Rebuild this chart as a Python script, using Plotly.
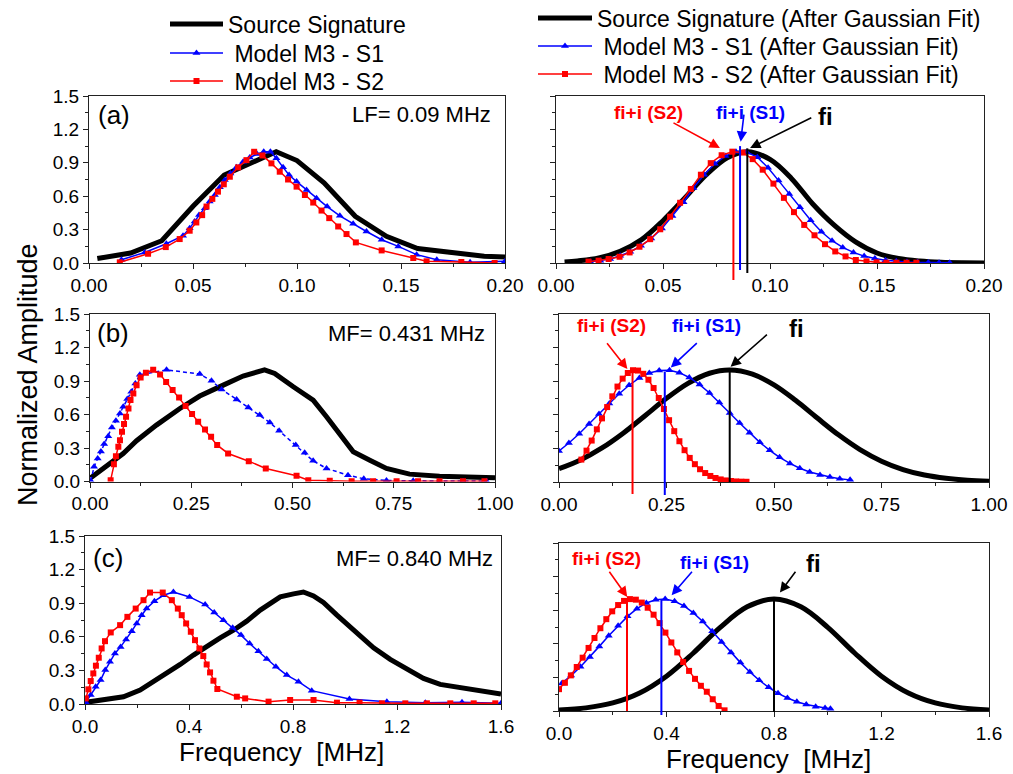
import plotly.graph_objects as go

# ---------------- data: (a) low-frequency source, LF = 0.09 MHz ----------------
a_src_f = [0.004, 0.020, 0.035, 0.050, 0.065, 0.078, 0.090, 0.100, 0.113, 0.128, 0.143, 0.158, 0.175, 0.190, 0.200]
a_src_amp = [0.04, 0.09, 0.20, 0.51, 0.79, 0.90, 1.00, 0.92, 0.72, 0.42, 0.24, 0.13, 0.09, 0.06, 0.055]

a_s1_f = [0.0156, 0.0268, 0.0372, 0.0452, 0.0484, 0.0508, 0.0529, 0.0557, 0.0580, 0.0605, 0.0629, 0.0653,
          0.0680, 0.0709, 0.0741, 0.0773, 0.0808, 0.0840, 0.0872, 0.0901, 0.0933, 0.0962, 0.0998, 0.1046,
          0.1094, 0.1145, 0.1206, 0.1270, 0.1334, 0.1407, 0.1487, 0.1575, 0.1672, 0.1832, 0.2000]
a_s1_amp = [0.03, 0.095, 0.173, 0.245, 0.313, 0.373, 0.432, 0.492, 0.552, 0.611, 0.680, 0.746,
            0.805, 0.859, 0.910, 0.948, 0.978, 0.999, 1.000, 0.940, 0.859, 0.790, 0.731, 0.656,
            0.582, 0.507, 0.424, 0.352, 0.283, 0.209, 0.149, 0.075, 0.030, 0.006, 0.015]

a_s2_f = [0.0148, 0.0284, 0.0369, 0.0436, 0.0484, 0.0516, 0.0544, 0.0565, 0.0593, 0.0620, 0.0648, 0.0677,
          0.0717, 0.0757, 0.0794, 0.0834, 0.0877, 0.0917, 0.0957, 0.0998, 0.1038, 0.1078, 0.1118, 0.1155,
          0.1198, 0.1238, 0.1283, 0.1407, 0.1559, 0.1623, 0.1790, 0.1950]
a_s2_amp = [0.006, 0.083, 0.143, 0.215, 0.290, 0.364, 0.430, 0.507, 0.576, 0.641, 0.707, 0.775,
            0.859, 0.924, 0.999, 0.966, 0.895, 0.820, 0.750, 0.686, 0.611, 0.543, 0.471, 0.403,
            0.328, 0.260, 0.185, 0.113, 0.045, 0.015, 0.009, 0.000]

# Gaussian-fitted spectra, panel (a)
a_fit_src_f = [0.004, 0.010, 0.020, 0.030, 0.040, 0.050, 0.060, 0.070, 0.080, 0.0895, 0.100, 0.110,
               0.120, 0.130, 0.140, 0.150, 0.160, 0.170, 0.180, 0.190, 0.200]
a_fit_src_amp = [0.010, 0.019, 0.045, 0.105, 0.210, 0.380, 0.580, 0.788, 0.945, 1.000, 0.930, 0.760,
                 0.530, 0.340, 0.190, 0.090, 0.040, 0.017, 0.006, 0.002, 0.001]

a_fit_s1_f = [0.0160, 0.0207, 0.0253, 0.0300, 0.0347, 0.0397, 0.0445, 0.0495, 0.0544, 0.0596, 0.0642,
              0.0692, 0.0742, 0.0792, 0.0841, 0.0891, 0.0941, 0.0991, 0.1040, 0.1090, 0.1140, 0.1190,
              0.1240, 0.1290, 0.1340, 0.1390, 0.1440, 0.1490, 0.1540, 0.1590, 0.1640, 0.1690, 0.1740,
              0.1790, 0.1840]
a_fit_s1_amp = [0.012, 0.021, 0.036, 0.065, 0.101, 0.154, 0.220, 0.309, 0.422, 0.546, 0.674,
                0.793, 0.891, 0.962, 1.000, 0.998, 0.950, 0.855, 0.740, 0.620, 0.500, 0.385,
                0.280, 0.200, 0.140, 0.095, 0.062, 0.040, 0.025, 0.015, 0.010, 0.006, 0.004,
                0.003, 0.002]

a_fit_s2_f = [0.0152, 0.0199, 0.0246, 0.0297, 0.0344, 0.0390, 0.0440, 0.0487, 0.0533, 0.0580, 0.0630,
              0.0677, 0.0723, 0.0774, 0.0824, 0.0872, 0.0919, 0.0966, 0.1016, 0.1065, 0.1112, 0.1160,
              0.1208, 0.1257, 0.1305, 0.1353, 0.1401, 0.1451, 0.1498, 0.1544, 0.1591, 0.1638, 0.1684]
a_fit_s2_amp = [0.012, 0.021, 0.036, 0.056, 0.095, 0.146, 0.214, 0.303, 0.416, 0.541, 0.665,
                0.793, 0.897, 0.968, 1.000, 0.992, 0.933, 0.838, 0.713, 0.585, 0.457, 0.342,
                0.249, 0.169, 0.104, 0.059, 0.027, 0.015, 0.006, 0.003, 0.003, 0.003, 0.003]

# ---------------- data: (b) MF = 0.431 MHz ----------------
b_src_f = [0.002, 0.082, 0.115, 0.164, 0.222, 0.271, 0.329, 0.378, 0.431, 0.456, 0.502, 0.551, 0.584,
           0.617, 0.650, 0.691, 0.732, 0.789, 0.863, 1.000]
b_src_amp = [0.033, 0.251, 0.365, 0.505, 0.654, 0.765, 0.863, 0.944, 1.000, 0.968, 0.848, 0.729, 0.580,
             0.430, 0.266, 0.191, 0.117, 0.066, 0.048, 0.033]

b_s1_f = [0.002, 0.010, 0.019, 0.027, 0.035, 0.045, 0.054, 0.064, 0.074, 0.082, 0.092, 0.102, 0.112,
          0.123, 0.189, 0.271, 0.300, 0.325, 0.362, 0.391, 0.419, 0.444, 0.467, 0.508, 0.530, 0.551,
          0.584, 0.637, 0.676, 0.732, 0.798, 0.863, 0.921, 0.979]
b_s1_amp = [0.006, 0.131, 0.206, 0.269, 0.335, 0.406, 0.484, 0.544, 0.610, 0.669, 0.738, 0.804, 0.878,
            0.956, 1.000, 0.962, 0.902, 0.825, 0.735, 0.663, 0.595, 0.529, 0.454, 0.326, 0.257, 0.185,
            0.117, 0.057, 0.024, 0.009, 0.006, 0.003, 0.003, 0.003]

b_s2_f = [0.051, 0.059, 0.064, 0.070, 0.074, 0.079, 0.084, 0.089, 0.095, 0.100, 0.107, 0.115, 0.125,
          0.138, 0.156, 0.173, 0.188, 0.204, 0.220, 0.236, 0.252, 0.267, 0.284, 0.299, 0.314, 0.341,
          0.392, 0.434, 0.510, 0.539, 0.592, 0.646, 0.699, 0.757, 0.810, 0.863, 0.921, 0.974]
b_s2_amp = [0.012, 0.155, 0.227, 0.311, 0.370, 0.445, 0.514, 0.580, 0.654, 0.729, 0.789, 0.863, 0.932,
            0.974, 1.000, 0.959, 0.890, 0.819, 0.753, 0.675, 0.604, 0.535, 0.466, 0.400, 0.326, 0.251,
            0.182, 0.117, 0.051, 0.012, 0.006, 0.003, 0.003, 0.003, 0.003, 0.003, 0.003, 0.003]

b_fit_src_f = [0.00, 0.05, 0.10, 0.15, 0.20, 0.25, 0.30, 0.35, 0.397, 0.45, 0.50, 0.55, 0.60, 0.65,
               0.70, 0.75, 0.80, 0.85, 0.90, 0.95, 1.00]
b_fit_src_amp = [0.119, 0.197, 0.304, 0.438, 0.592, 0.747, 0.881, 0.971, 1.000, 0.963, 0.867, 0.729,
                 0.573, 0.421, 0.289, 0.186, 0.111, 0.062, 0.033, 0.016, 0.007]

b_fit_s1_f = [0.000, 0.023, 0.047, 0.070, 0.093, 0.117, 0.140, 0.163, 0.187, 0.210, 0.233, 0.257,
              0.280, 0.303, 0.327, 0.350, 0.373, 0.397, 0.420, 0.443, 0.467, 0.490, 0.513, 0.537,
              0.560, 0.583, 0.607, 0.630, 0.653, 0.677]
b_fit_s1_amp = [0.277, 0.348, 0.431, 0.518, 0.608, 0.702, 0.788, 0.864, 0.929, 0.973, 0.996, 0.997,
                0.976, 0.933, 0.870, 0.795, 0.710, 0.616, 0.526, 0.439, 0.354, 0.283, 0.220, 0.166,
                0.123, 0.090, 0.063, 0.044, 0.030, 0.019]

b_fit_s2_f = [0.052, 0.064, 0.076, 0.088, 0.100, 0.112, 0.124, 0.136, 0.148, 0.160, 0.172, 0.184,
              0.196, 0.208, 0.220, 0.232, 0.244, 0.256, 0.268, 0.280, 0.292, 0.304, 0.316, 0.328,
              0.340, 0.352, 0.364, 0.376, 0.388, 0.400, 0.412, 0.424, 0.436]
b_fit_s2_amp = [0.200, 0.280, 0.370, 0.470, 0.568, 0.669, 0.765, 0.852, 0.923, 0.973, 0.998, 0.995,
                0.966, 0.913, 0.839, 0.750, 0.652, 0.552, 0.454, 0.364, 0.284, 0.215, 0.159, 0.114,
                0.080, 0.054, 0.036, 0.023, 0.014, 0.009, 0.005, 0.003, 0.002]

# ---------------- data: (c) MF = 0.840 MHz ----------------
c_src_f = [0.004, 0.148, 0.212, 0.263, 0.314, 0.366, 0.417, 0.468, 0.520, 0.571, 0.622, 0.674, 0.751,
           0.802, 0.840, 0.879, 0.917, 0.969, 1.020, 1.058, 1.110, 1.174, 1.238, 1.302, 1.366, 1.431,
           1.495, 1.600]
c_src_amp = [0.015, 0.065, 0.125, 0.199, 0.282, 0.353, 0.437, 0.517, 0.591, 0.659, 0.740, 0.838, 0.956,
             0.983, 1.000, 0.965, 0.906, 0.793, 0.689, 0.600, 0.502, 0.398, 0.309, 0.229, 0.175, 0.151,
             0.131, 0.089]

c_s1_f = [0.003, 0.022, 0.041, 0.060, 0.078, 0.096, 0.115, 0.137, 0.158, 0.180, 0.199, 0.218, 0.237,
          0.267, 0.302, 0.340, 0.402, 0.462, 0.497, 0.532, 0.568, 0.600, 0.633, 0.667, 0.699, 0.734,
          0.776, 0.821, 0.872, 1.017, 1.161, 1.309, 1.450, 1.600]
c_s1_amp = [0.015, 0.080, 0.154, 0.214, 0.303, 0.377, 0.451, 0.510, 0.576, 0.650, 0.719, 0.793, 0.852,
            0.918, 0.971, 1.000, 0.956, 0.888, 0.817, 0.748, 0.680, 0.615, 0.540, 0.472, 0.401, 0.333,
            0.258, 0.199, 0.119, 0.045, 0.021, 0.012, 0.015, 0.006]

c_s2_f = [0.003, 0.013, 0.022, 0.032, 0.042, 0.053, 0.064, 0.077, 0.099, 0.135, 0.163, 0.195, 0.225,
          0.250, 0.299, 0.334, 0.357, 0.372, 0.389, 0.407, 0.423, 0.440, 0.455, 0.468, 0.481, 0.494,
          0.509, 0.584, 0.616, 0.706, 0.789, 0.879, 0.969, 1.056, 1.142, 1.232, 1.315, 1.405, 1.495,
          1.578]
c_s2_amp = [0.050, 0.131, 0.205, 0.273, 0.342, 0.413, 0.496, 0.561, 0.639, 0.704, 0.778, 0.852, 0.927,
            0.995, 0.995, 0.927, 0.852, 0.793, 0.719, 0.645, 0.570, 0.496, 0.428, 0.353, 0.282, 0.208,
            0.134, 0.065, 0.050, 0.021, 0.036, 0.036, 0.012, 0.012, 0.006, 0.006, 0.006, 0.006, 0.006,
            0.006]

c_fit_src_f = [0.0, 0.1, 0.2, 0.3, 0.4, 0.5, 0.6, 0.7, 0.8, 0.9, 1.0, 1.1, 1.2, 1.3, 1.4, 1.5, 1.6]
c_fit_src_amp = [0.009, 0.028, 0.072, 0.161, 0.311, 0.518, 0.747, 0.930, 1.000, 0.930, 0.747, 0.518,
                 0.311, 0.161, 0.072, 0.028, 0.009]

c_fit_s1_f = [0.010, 0.045, 0.080, 0.115, 0.150, 0.185, 0.220, 0.255, 0.290, 0.325, 0.360, 0.395,
              0.430, 0.465, 0.500, 0.535, 0.570, 0.605, 0.640, 0.675, 0.710, 0.745, 0.780, 0.815,
              0.850, 0.885, 0.920, 0.955, 0.990, 1.010]
c_fit_s1_amp = [0.246, 0.316, 0.396, 0.483, 0.577, 0.671, 0.762, 0.845, 0.914, 0.965, 0.994, 0.999,
                0.980, 0.938, 0.876, 0.799, 0.711, 0.617, 0.523, 0.432, 0.349, 0.275, 0.211, 0.158,
                0.116, 0.083, 0.058, 0.039, 0.026, 0.020]

c_fit_s2_f = [0.000, 0.022, 0.044, 0.066, 0.088, 0.110, 0.132, 0.154, 0.176, 0.198, 0.220, 0.242,
              0.264, 0.286, 0.308, 0.330, 0.352, 0.374, 0.396, 0.418, 0.440, 0.462, 0.484, 0.506,
              0.528, 0.550, 0.572, 0.594, 0.616]
c_fit_s2_amp = [0.195, 0.252, 0.318, 0.393, 0.476, 0.563, 0.652, 0.739, 0.820, 0.890, 0.946, 0.983,
                0.999, 0.994, 0.968, 0.922, 0.860, 0.785, 0.700, 0.612, 0.523, 0.437, 0.358, 0.287,
                0.225, 0.172, 0.105, 0.045, 0.006]

# peak-frequency markers on the fitted spectra: (frequency, top amplitude)
a_peaks = {"S2": (0.0829, 1.00), "S1": (0.0860, 1.05), "src": (0.0894, 1.03)}
b_peaks = {"S2": (0.171, 1.00), "S1": (0.246, 0.985), "src": (0.397, 1.00)}
c_peaks = {"S2": (0.253, 1.00), "S1": (0.381, 1.00), "src": (0.800, 1.00)}

panel_labels = ["(a)", "(b)", "(c)"]
band_labels = ["LF= 0.09 MHz", "MF= 0.431 MHz", "MF= 0.840 MHz"]

# ---------------- layout geometry (pixels) ----------------
W, H = 1013, 774
FONT = "Liberation Sans, Arial, sans-serif"
BLUE, RED, BLACK = "#0000ff", "#ff0000", "#000000"
AX = "#222222"

# (left, right, top, bottom) of each plotting area
boxes = [
    (89, 505, 96, 263),    # a left
    (556, 984, 96, 263),   # a right
    (90, 495, 314, 481.5), # b left
    (559, 989, 314, 482),  # b right
    (85, 501, 536, 704),   # c left
    (559, 989, 543, 711),  # c right
]


def xdom(b):
    return [b[0] / W, b[1] / W]


def ydom(b):
    return [1 - b[3] / H, 1 - b[2] / H]


fig = go.Figure()

x_specs = [
    ([0, 0.2], 0.05, ".2f", 0.025),
    ([0, 1.0], 0.25, ".2f", 0.125),
    ([0, 1.6], 0.4, ".1f", 0.2),
]

layout = dict(
    template="none",
    width=W, height=H, autosize=False,
    margin=dict(l=0, r=0, t=0, b=0, pad=0, autoexpand=False),
    paper_bgcolor="white", plot_bgcolor="white",
    font=dict(family=FONT, color="black", size=19),
)

for i, b in enumerate(boxes):
    n = i + 1
    row = i // 2
    rng, dt, fmt, mdt = x_specs[row]
    left_col = (i % 2 == 0)
    layout["xaxis%d" % n] = dict(
        domain=xdom(b), range=rng, tick0=0, dtick=dt, tickformat=fmt,
        anchor="y%d" % n, showline=True, mirror=True, linecolor=AX, linewidth=1,
        ticks="outside", ticklen=5, tickwidth=1, tickcolor=AX, automargin=False,
        minor=dict(dtick=mdt, tick0=0, ticks="outside", ticklen=3, tickcolor=AX, showgrid=False),
        showgrid=False, zeroline=False, tickfont=dict(size=19, family=FONT, color="black"),
    )
    layout["yaxis%d" % n] = dict(
        domain=ydom(b), range=[0, 1.5], tick0=0, dtick=0.3, tickformat=".1f",
        anchor="x%d" % n, showline=True, mirror=True, linecolor=AX, linewidth=1,
        ticks="outside", ticklen=5, tickwidth=1, tickcolor=AX, automargin=False,
        minor=dict(dtick=0.15, tick0=0, ticks="outside", ticklen=3, tickcolor=AX, showgrid=False),
        showgrid=False, zeroline=False, showticklabels=left_col,
        tickfont=dict(size=19, family=FONT, color="black"),
    )

fig.update_layout(**layout)


def ax(n):
    return dict(xaxis="x%d" % n, yaxis="y%d" % n)


measured = [
    (a_src_f, a_src_amp, a_s1_f, a_s1_amp, a_s2_f, a_s2_amp),
    (b_src_f, b_src_amp, b_s1_f, b_s1_amp, b_s2_f, b_s2_amp),
    (c_src_f, c_src_amp, c_s1_f, c_s1_amp, c_s2_f, c_s2_amp),
]
fitted = [
    (a_fit_src_f, a_fit_src_amp, a_fit_s1_f, a_fit_s1_amp, a_fit_s2_f, a_fit_s2_amp),
    (b_fit_src_f, b_fit_src_amp, b_fit_s1_f, b_fit_s1_amp, b_fit_s2_f, b_fit_s2_amp),
    (c_fit_src_f, c_fit_src_amp, c_fit_s1_f, c_fit_s1_amp, c_fit_s2_f, c_fit_s2_amp),
]
peaks = [a_peaks, b_peaks, c_peaks]

NB = "\u00a0"

# left column: measured spectra (one legend box per entry)
for r, (sf, sa, f1, a1, f2, a2) in enumerate(measured):
    n = 2 * r + 1
    first = (r == 0)
    fig.add_trace(go.Scatter(x=sf, y=sa, mode="lines", name="Source Signature",
                             line=dict(color=BLACK, width=5), legend="legend",
                             showlegend=first, **ax(n)))
    fig.add_trace(go.Scatter(x=f1, y=a1, mode="lines+markers", name=NB + "Model M3 - S1",
                             line=dict(color=BLUE, width=1.5, dash=("4px,3px" if r == 1 else "solid")),
                             marker=dict(symbol="triangle-up", size=7, color=BLUE),
                             legend="legend2", showlegend=first, **ax(n)))
    fig.add_trace(go.Scatter(x=f2, y=a2, mode="lines+markers", name=NB + "Model M3 - S2",
                             line=dict(color=RED, width=1.5),
                             marker=dict(symbol="square", size=6, color=RED),
                             legend="legend3", showlegend=first, **ax(n)))

# right column: Gaussian-fitted spectra and peak markers
overhang_px = [
    {"S2": 17, "S1": 7, "src": 10},
    {"S2": 12, "S1": 13, "src": 0},
    {"S2": 0, "S1": 4, "src": 1},
]
for r, (sf, sa, f1, a1, f2, a2) in enumerate(fitted):
    n = 2 * r + 2
    first = (r == 0)
    fig.add_trace(go.Scatter(x=sf, y=sa, mode="lines", line_shape="spline",
                             name="Source Signature (After Gaussian Fit)",
                             line=dict(color=BLACK, width=5), legend="legend4",
                             showlegend=first, **ax(n)))
    fig.add_trace(go.Scatter(x=f1, y=a1, mode="lines+markers",
                             name=NB + "Model M3 - S1 (After Gaussian Fit)",
                             line=dict(color=BLUE, width=1.5),
                             marker=dict(symbol="triangle-up", size=7, color=BLUE),
                             legend="legend5", showlegend=first, **ax(n)))
    fig.add_trace(go.Scatter(x=f2, y=a2, mode="lines+markers",
                             name=NB + "Model M3 - S2 (After Gaussian Fit)",
                             line=dict(color=RED, width=1.5),
                             marker=dict(symbol="square", size=6, color=RED),
                             legend="legend6", showlegend=first, **ax(n)))
    b = boxes[n - 1]
    h_px = b[3] - b[2]
    for key, col in (("S2", RED), ("S1", BLUE), ("src", BLACK)):
        pf, pa = peaks[r][key]
        fig.add_trace(go.Scatter(x=[pf, pf], y=[0, pa], mode="lines",
                                 line=dict(color=col, width=2), showlegend=False,
                                 hoverinfo="skip", **ax(n)))
        oh = overhang_px[r][key]
        if oh > 0:
            fig.add_shape(type="line", xref="x%d" % n, yref="y%d domain" % n,
                          x0=pf, x1=pf, y0=0, y1=-oh / h_px,
                          line=dict(color=col, width=2))

# ---------------- legends ----------------
def legend_box(x_px, y_px, width):
    return dict(x=x_px / W, y=1 - y_px / H, xanchor="left", yanchor="middle",
                font=dict(size=23, family=FONT, color="black"), bgcolor="rgba(0,0,0,0)",
                borderwidth=0, itemwidth=width, traceorder="normal")


fig.update_layout(
    legend=legend_box(165, 24, 53),
    legend2=legend_box(165, 53, 53),
    legend3=legend_box(165, 81, 53),
    legend4=legend_box(533, 18, 54),
    legend5=legend_box(533, 46, 54),
    legend6=legend_box(533, 74, 54),
)

# ---------------- text annotations ----------------
ann = []


def paper_text(txt, x_px, y_px, size, xanchor="center", angle=0):
    return dict(text=txt, x=x_px / W, y=1 - y_px / H, xref="paper", yref="paper",
                xanchor=xanchor, yanchor="middle", textangle=angle, showarrow=False,
                font=dict(size=size, family=FONT, color="black"))


label_pos = [(114, 115, 493), (113, 333, 487), (108, 558, 495)]
for r in range(3):
    lx, ly, rx = label_pos[r]
    ann.append(paper_text(panel_labels[r], lx, ly, 26))
    ann.append(paper_text(band_labels[r], rx, ly, 22, xanchor="right"))

ann.append(paper_text("Normalized Amplitude", 28, 375, 27, angle=-90))
for cx, cy in ((281, 752), (768, 759)):
    ann.append(paper_text("Frequency" + NB + NB + "[MHz]", cx, cy, 26))

# peak call-outs on the fitted panels: text position, arrow tail, arrow head (data units)
callouts = [
    (2, [("fi+i (S2)", RED, 19, (0.043, 1.356), (0.0542, 1.266), (0.0766, 1.033)),
         ("fi+i (S1)", BLUE, 19, (0.0907, 1.356), (0.0879, 1.347), (0.0863, 1.09)),
         ("fi", BLACK, 24, (0.126, 1.32), (0.120, 1.311), (0.0907, 1.033))]),
    (4, [("fi+i (S2)", RED, 19, (0.1226, 1.40), (0.109, 1.252), (0.159, 1.008)),
         ("fi+i (S1)", BLUE, 19, (0.3435, 1.40), (0.324, 1.252), (0.260, 1.023)),
         ("fi", BLACK, 24, (0.553, 1.372), (0.487, 1.327), (0.399, 1.029))]),
    (6, [("fi+i (S2)", RED, 19, (0.1775, 1.361), (0.1834, 1.256), (0.254, 1.018)),
         ("fi+i (S1)", BLUE, 19, (0.580, 1.330), (0.4997, 1.256), (0.419, 1.033)),
         ("fi", BLACK, 24, (0.946, 1.316), (0.884, 1.256), (0.822, 1.057))]),
]
for n, items in callouts:
    for txt, col, fs, tpos, tail, head in items:
        ann.append(dict(text="<b>%s</b>" % txt, x=tpos[0], y=tpos[1], xref="x%d" % n, yref="y%d" % n,
                        xanchor="center", yanchor="middle",
                        showarrow=False, font=dict(size=fs, family=FONT, color=col)))
        ann.append(dict(text="", x=head[0], y=head[1], ax=tail[0], ay=tail[1],
                        xref="x%d" % n, yref="y%d" % n, axref="x%d" % n, ayref="y%d" % n,
                        showarrow=True, arrowhead=2, arrowsize=1.3, arrowwidth=1.6,
                        arrowcolor=col, standoff=0))

fig.update_layout(annotations=ann)

fig.write_html("out.html")
